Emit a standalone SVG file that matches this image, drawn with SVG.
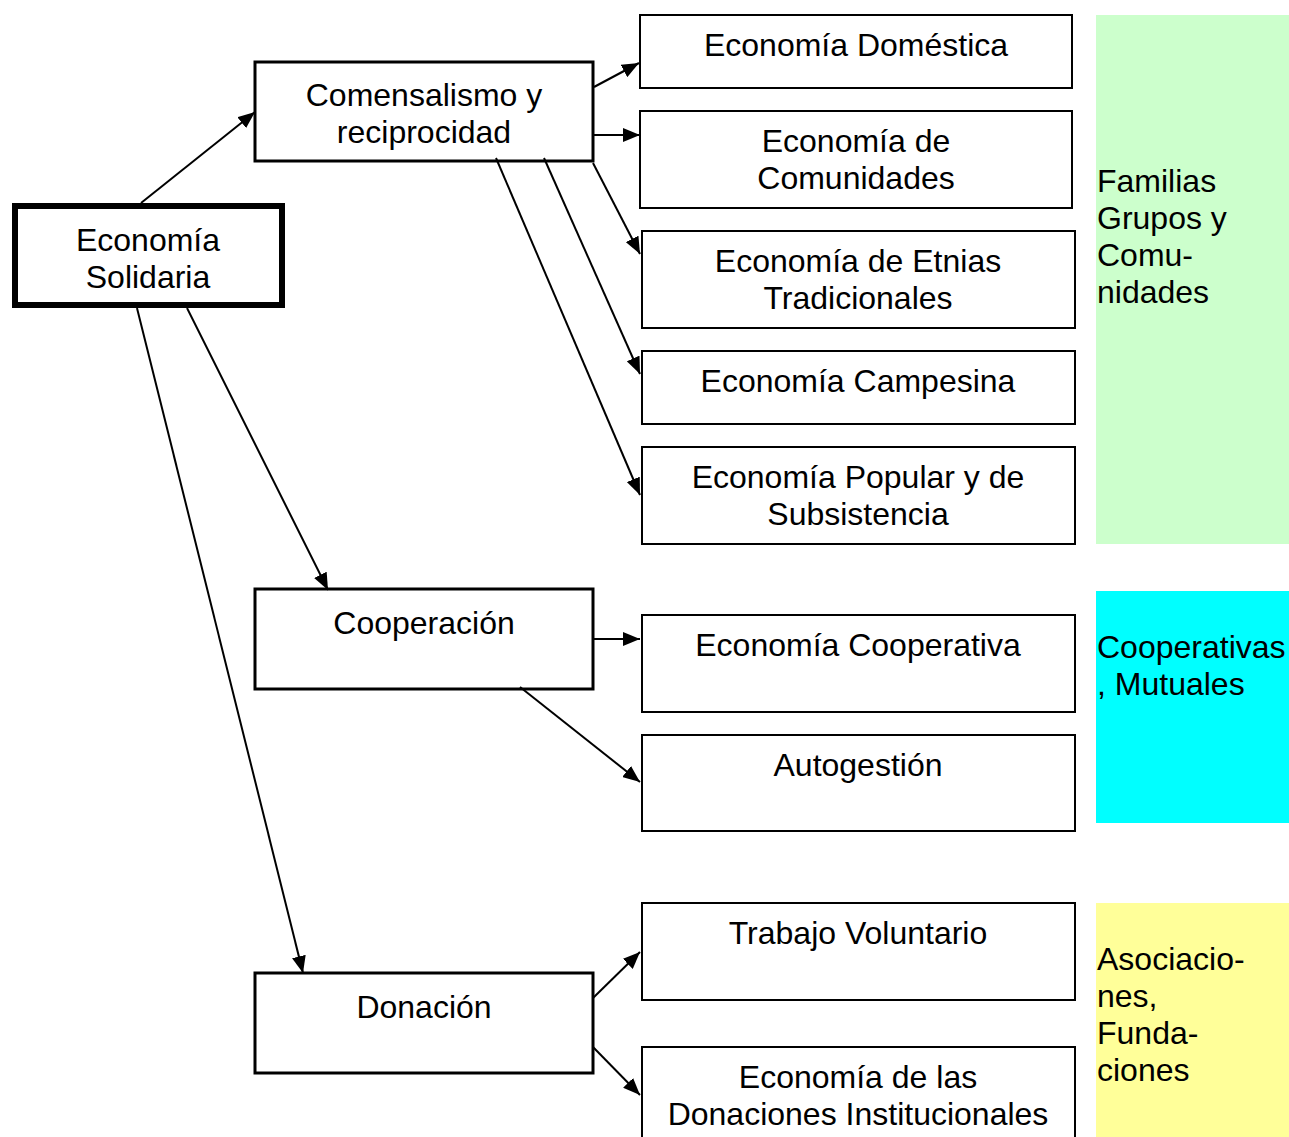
<svg xmlns="http://www.w3.org/2000/svg" width="1289" height="1137" viewBox="0 0 1289 1137">
<style>
text{font-family:"Liberation Sans",Arial,sans-serif;font-size:32px;fill:#000}
.c{text-anchor:middle}
.box{fill:#fff;stroke:#000;stroke-width:2}
.mid{fill:#fff;stroke:#000;stroke-width:3}
.main{fill:#fff;stroke:#000;stroke-width:6}
.conn line{stroke:#000;stroke-width:2;marker-end:url(#ah)}
</style>
<defs>
<marker id="ah" markerUnits="userSpaceOnUse" markerWidth="17" markerHeight="14" refX="17" refY="7" orient="auto">
<path d="M0,0 L17,7 L0,14 z" fill="#000"/>
</marker>
</defs>
<rect width="1289" height="1137" fill="#fff"/>

<g id="cat-familias">
<rect x="1096" y="15" width="193" height="529" fill="#CCFFCC"/>
<text x="1097" y="192">Familias</text>
<text x="1097" y="229">Grupos y</text>
<text x="1097" y="266">Comu-</text>
<text x="1097" y="303">nidades</text>
</g>
<g id="cat-cooperativas">
<rect x="1096" y="591" width="193" height="232" fill="#00FFFF"/>
<text x="1097" y="658">Cooperativas</text>
<text x="1097" y="695">, Mutuales</text>
</g>
<g id="cat-asociaciones">
<rect x="1096" y="903" width="193" height="234" fill="#FFFF99"/>
<text x="1097" y="970">Asociacio-</text>
<text x="1097" y="1007">nes,</text>
<text x="1097" y="1044">Funda-</text>
<text x="1097" y="1081">ciones</text>
</g>

<g id="n-solidaria">
<rect class="main" x="15" y="206" width="267" height="99"/>
<text class="c" x="148" y="251">Economía</text>
<text class="c" x="148" y="288">Solidaria</text>
</g>
<g id="n-comensalismo">
<rect class="mid" x="255" y="62" width="338" height="99"/>
<text class="c" x="424" y="106">Comensalismo y</text>
<text class="c" x="424" y="143">reciprocidad</text>
</g>
<g id="n-cooperacion">
<rect class="mid" x="255" y="589" width="338" height="100"/>
<text class="c" x="424" y="634">Cooperación</text>
</g>
<g id="n-donacion">
<rect class="mid" x="255" y="973" width="338" height="100"/>
<text class="c" x="424" y="1018">Donación</text>
</g>

<g id="n-domestica">
<rect class="box" x="640" y="15" width="432" height="73"/>
<text class="c" x="856" y="56">Economía Doméstica</text>
</g>
<g id="n-comunidades">
<rect class="box" x="640" y="111" width="432" height="97"/>
<text class="c" x="856" y="152">Economía de</text>
<text class="c" x="856" y="189">Comunidades</text>
</g>
<g id="n-etnias">
<rect class="box" x="642" y="231" width="433" height="97"/>
<text class="c" x="858" y="272">Economía de Etnias</text>
<text class="c" x="858" y="309">Tradicionales</text>
</g>
<g id="n-campesina">
<rect class="box" x="642" y="351" width="433" height="73"/>
<text class="c" x="858" y="392">Economía Campesina</text>
</g>
<g id="n-popular">
<rect class="box" x="642" y="447" width="433" height="97"/>
<text class="c" x="858" y="488">Economía Popular y de</text>
<text class="c" x="858" y="525">Subsistencia</text>
</g>
<g id="n-cooperativa">
<rect class="box" x="642" y="615" width="433" height="97"/>
<text class="c" x="858" y="656">Economía Cooperativa</text>
</g>
<g id="n-autogestion">
<rect class="box" x="642" y="735" width="433" height="96"/>
<text class="c" x="858" y="776">Autogestión</text>
</g>
<g id="n-voluntario">
<rect class="box" x="642" y="903" width="433" height="97"/>
<text class="c" x="858" y="944">Trabajo Voluntario</text>
</g>
<g id="n-donaciones">
<rect class="box" x="642" y="1047" width="433" height="100"/>
<text class="c" x="858" y="1088">Economía de las</text>
<text class="c" x="858" y="1125">Donaciones Institucionales</text>
</g>

<g id="connectors" class="conn">
<line x1="141" y1="203" x2="255" y2="112"/>
<line x1="594" y1="87" x2="639" y2="63"/>
<line x1="594" y1="135" x2="640" y2="135"/>
<line x1="593" y1="163" x2="640" y2="254"/>
<line x1="544" y1="158" x2="640" y2="374"/>
<line x1="496" y1="158" x2="640" y2="495"/>
<line x1="187" y1="308" x2="328" y2="590"/>
<line x1="137" y1="308" x2="303" y2="973"/>
<line x1="594" y1="639" x2="640" y2="639"/>
<line x1="520" y1="687" x2="640" y2="782"/>
<line x1="593" y1="998" x2="640" y2="952"/>
<line x1="593" y1="1047" x2="640" y2="1095"/>
</g>
</svg>
